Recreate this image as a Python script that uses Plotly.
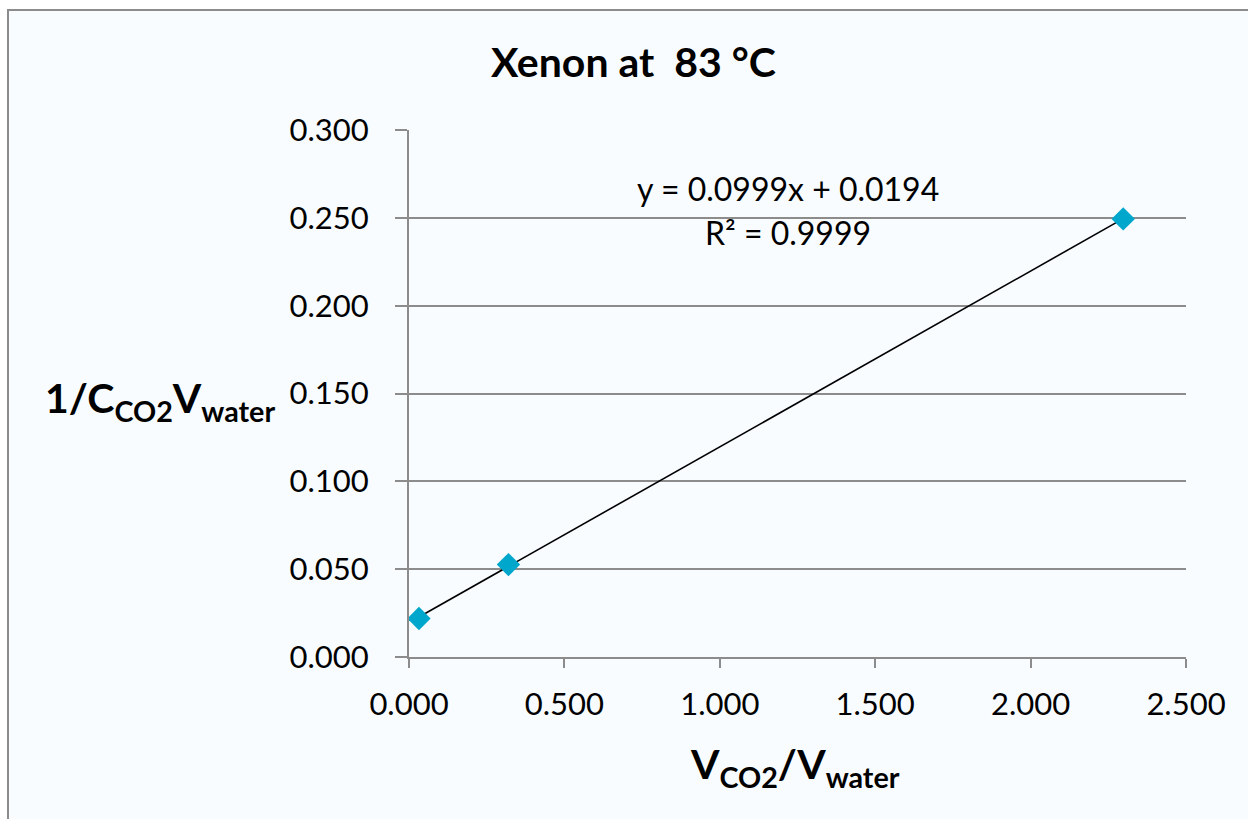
import numpy as np
import plotly.graph_objects as go

# Data
x_vals = [0.032, 0.320, 2.298]
y_vals = [0.0219, 0.0526, 0.2494]
x_ticks = [0.0, 0.5, 1.0, 1.5, 2.0, 2.5]
x_tick_labels = ["0.000", "0.500", "1.000", "1.500", "2.000", "2.500"]
y_ticks = [0.0, 0.05, 0.1, 0.15, 0.2, 0.25, 0.3]
y_tick_labels = ["0.000", "0.050", "0.100", "0.150", "0.200", "0.250", "0.300"]
title_text = "Xenon at  83 °C"
equation_text = "y = 0.0999x + 0.0194"
r2_text = "R² = 0.9999"

W, H = 1248, 819
L, R, T, B = 409, 62, 130, 162
pw, ph = W - L - R, H - T - B

def px(xp):
    return (xp - L) / pw

def py(yp):
    return (H - B - yp) / ph

FONT = "Lato"

slope, intercept = np.polyfit(x_vals, y_vals, 1)
fit_x = [min(x_vals), max(x_vals)]
fit_y = [slope * v + intercept for v in fit_x]

fig = go.Figure()
fig.add_trace(go.Scatter(x=fit_x, y=fit_y, mode="lines",
                         line=dict(color="black", width=1.6), showlegend=False, hoverinfo="skip"))
fig.add_trace(go.Scatter(x=x_vals, y=y_vals, mode="markers",
                         marker=dict(symbol="diamond", size=18, color="#00A7CC"),
                         showlegend=False))

fig.update_layout(
    width=W, height=H,
    margin=dict(l=L, r=R, t=T, b=B),
    paper_bgcolor="white",
    plot_bgcolor="rgba(0,0,0,0)",
    font=dict(family=FONT, color="black"),
    xaxis=dict(range=[0, 2.5], tickvals=x_ticks, ticktext=x_tick_labels,
               showgrid=False, zeroline=False, showline=True, linecolor="#8c8c8c", linewidth=2,
               ticks="outside", ticklen=9, tickwidth=2, tickcolor="#8c8c8c",
               ticklabelstandoff=10,
               tickfont=dict(size=31, family=FONT)),
    yaxis=dict(range=[0, 0.3], tickvals=y_ticks, ticktext=y_tick_labels,
               showgrid=True, gridcolor="#8c8c8c", gridwidth=2, zeroline=False,
               showline=True, linecolor="#8c8c8c", linewidth=2,
               ticks="outside", ticklen=12, tickwidth=2, tickcolor="#8c8c8c",
               ticklabelstandoff=20,
               tickfont=dict(size=31, family=FONT)),
    shapes=[dict(type="rect", xref="paper", yref="paper", layer="below",
                 x0=px(8), x1=px(1260), y0=py(10), y1=py(830),
                 fillcolor="#F8FCFF", line=dict(color="#8c8c8c", width=2))],
    annotations=[
        dict(text="<b>" + title_text + "</b>", xref="paper", yref="paper",
             x=px(633), y=py(61), xanchor="center", yanchor="middle", showarrow=False,
             font=dict(size=41, family=FONT)),
        dict(text="<b>1/C<sub>CO2</sub>V<sub>water</sub></b>", xref="paper", yref="paper",
             x=px(277), y=py(400), xanchor="right", yanchor="middle", showarrow=False,
             font=dict(size=41, family=FONT)),
        dict(text="<b>V<sub>CO2</sub>/V<sub>water</sub></b>", xref="paper", yref="paper",
             x=px(795), y=py(766), xanchor="center", yanchor="middle", showarrow=False,
             font=dict(size=41, family=FONT)),
        dict(text=equation_text, xref="paper", yref="paper",
             x=px(788), y=py(188), xanchor="center", yanchor="middle", showarrow=False,
             font=dict(size=32, family=FONT)),
        dict(text=r2_text, xref="paper", yref="paper",
             x=px(788), y=py(232), xanchor="center", yanchor="middle", showarrow=False,
             font=dict(size=32, family=FONT)),
    ],
)

fig.write_html("out.html")
